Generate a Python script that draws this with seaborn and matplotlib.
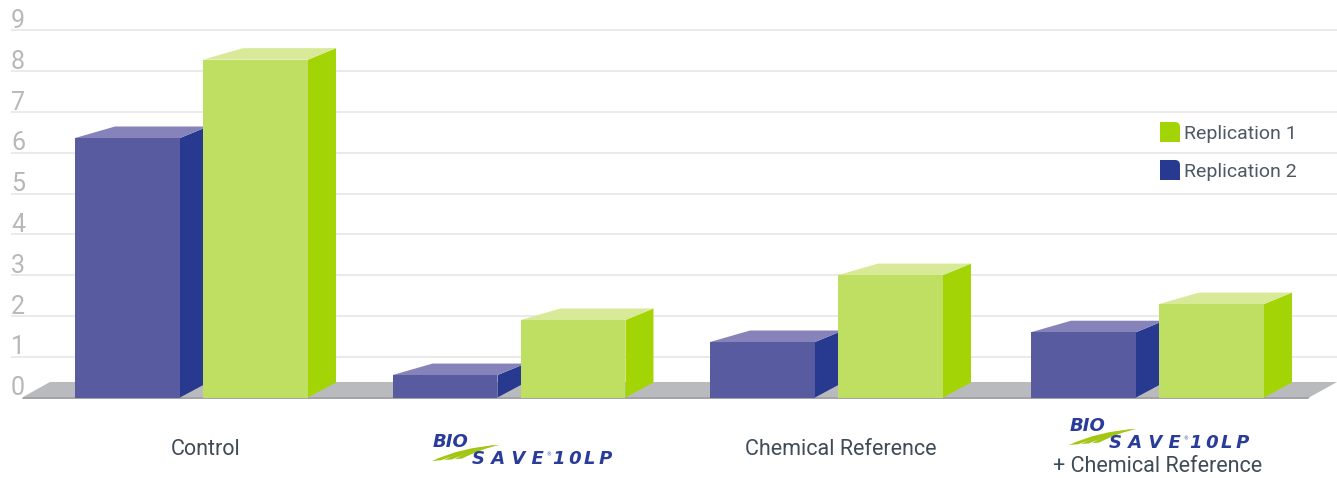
"""3D looking bar chart of the two replications, drawn on top of a seaborn barplot"""

import matplotlib
matplotlib.use("Agg")

import pandas as pd
import seaborn as sns

from matplotlib import pyplot as plt
from matplotlib.patches import PathPatch, Polygon
from matplotlib.path import Path
from matplotlib.transforms import Affine2D, ScaledTranslation


treatments = ["Control", "BioSave", "Chemical Reference", "BioSave + Chemical Reference"]
replication_1 = [8.28, 1.90, 3.00, 2.29]
replication_2 = [6.36, 0.55, 1.36, 1.60]
tick_values = [0, 1, 2, 3, 4, 5, 6, 7, 8, 9]
tick_labels = ["Control", "", "Chemical Reference", "+ Chemical Reference"]

W, H = 1337, 478
PX_PER_UNIT = 40.8
ZERO_Y = 397.5
SPACING = 317.5
FIRST_CENTER = 191.5

colors = {
    "Replication 1": {"front": "#bedf62", "side": "#a3d506", "top": "#d8e997"},
    "Replication 2": {"front": "#595ba1", "side": "#283a90", "top": "#8583b9"},
}
LABEL_COLOR = "#3f4b57"
LOGO_BLUE = "#2a3c9a"
LOGO_GREEN = "#a3c614"
THIN = "\u2009"

plt.rcParams["font.family"] = ["Roboto", "DejaVu Sans"]

df = pd.DataFrame({
    "treatment": treatments * 2,
    "replication": ["Replication 1"] * 4 + ["Replication 2"] * 4,
    "value": replication_1 + replication_2,
})

fig = plt.figure(figsize=(W / 100, H / 100), dpi=100, facecolor="white")
ax = fig.add_axes([11 / W, (H - ZERO_Y) / H, (W - 11) / W, ZERO_Y / H])
# image style pixel coordinates for the floor, the depth faces and the legend
px = Affine2D().scale(1, -1).translate(0, H)

sns.barplot(
    data=df, x="treatment", y="value", hue="replication", order=treatments,
    hue_order=["Replication 2", "Replication 1"],
    palette={k: v["front"] for k, v in colors.items()},
    saturation=1, width=256 / SPACING, gap=0.18, legend=False, ax=ax, zorder=3, linewidth=0,
)

ax.set_xlim((11 - FIRST_CENTER) / SPACING, (W - FIRST_CENTER) / SPACING)
ax.set_ylim(0, ZERO_Y / PX_PER_UNIT)
ax.set_xlabel("")
ax.set_ylabel("")
sns.despine(ax=ax, left=True, bottom=True, top=True, right=True)
ax.set_axisbelow(True)

ax.set_yticks(tick_values)
ax.set_yticklabels([str(v) for v in tick_values])
ax.grid(axis="y", color="#e4e4e4", linewidth=1.1)
ax.yaxis.get_gridlines()[0].set_visible(False)
ax.tick_params(axis="y", length=0, pad=0, labelsize=18, labelcolor="#b8b8b8")
for label in ax.get_yticklabels():
    label.set_horizontalalignment("left")
    label.set_verticalalignment("bottom")
    label.set_transform(label.get_transform() + ScaledTranslation(0, -2 / 72, fig.dpi_scale_trans))

ax.set_xticks(range(len(treatments)))
ax.set_xticklabels(tick_labels)
ax.tick_params(axis="x", length=0, pad=0, labelsize=15.5, labelcolor=LABEL_COLOR)
label_drop = [52, 52, 52, 69]
for label, drop in zip(ax.get_xticklabels(), label_drop):
    label.set_verticalalignment("center")
    label.set_transform(label.get_transform() + ScaledTranslation(14 / 100, -drop / 100, fig.dpi_scale_trans))

# the last group sits a little further right than the regular spacing
for container in ax.containers:
    container[3].set_x(container[3].get_x() + 3.5 / SPACING)

# floor
ax.add_patch(Polygon([(23, 397), (50, 382), (1337, 382), (1310, 397)], closed=True, transform=px,
                     facecolor="#b9babd", edgecolor="none", zorder=2, clip_on=False))
ax.add_patch(Polygon([(23, 397), (1310, 397), (1308, 399), (22, 399)], closed=True, transform=px,
                     facecolor="#a4a4a8", edgecolor="none", zorder=2, clip_on=False))

# depth faces, taken from the bars that seaborn placed
for container, name, z in zip(ax.containers, ["Replication 2", "Replication 1"], [3, 5]):
    for bar in container:
        bar.set_zorder(z + 1)
        x0, top = px.inverted().transform(ax.transData.transform((bar.get_x(), bar.get_height())))
        x1, bottom = px.inverted().transform(ax.transData.transform((bar.get_x() + bar.get_width(), 0)))
        ax.add_patch(Polygon([(x1, bottom), (x1 + 28, bottom - 15), (x1 + 28, top - 11.5), (x1, top)],
                             closed=True, transform=px, facecolor=colors[name]["side"],
                             edgecolor="none", zorder=z, clip_on=False))
        ax.add_patch(Polygon([(x0, top), (x0 + 40, top - 11.5), (x1 + 28, top - 11.5), (x1, top)],
                             closed=True, transform=px, facecolor=colors[name]["top"],
                             edgecolor="none", zorder=z, clip_on=False))


def draw_logo(x, y):
    """BioSave wordmark, (x, y) is the left tip of the green swoosh in pixels"""
    # three green strands running together at the upper right
    for b0, b1 in [(0, 9), (12, 20), (23, 30)]:
        verts = [(x + b0, y - b0 * 0.08), (x + b0 * 0.5 + 30, y - 14), (x + 67, y - 16),
                 (x + b1 * 0.5 + 34, y - 12), (x + b1, y - b1 * 0.08), (x + b0, y - b0 * 0.08)]
        codes = [Path.MOVETO, Path.CURVE3, Path.CURVE3, Path.CURVE3, Path.CURVE3, Path.CLOSEPOLY]
        fig.add_artist(PathPatch(Path(verts, codes), transform=px, facecolor=LOGO_GREEN,
                                 edgecolor="none", zorder=7))
    kw = dict(transform=None, color=LOGO_BLUE, family="DejaVu Sans", va="baseline", ha="left", zorder=8)
    word = dict(fontsize=13, style="oblique", weight="bold")
    fig.text(x + 1, H - y + 14, "BIO", **word, **kw)
    fig.text(x + 40, H - y - 3, " ".join("SAVE"), **word, **kw)
    fig.text(x + 114, H - y + 5, "\u00ae", fontsize=3.5, **kw)
    fig.text(x + 121, H - y - 3, THIN.join("10"), **word, **kw)
    fig.text(x + 152, H - y - 3, THIN.join("LP"), **word, **kw)


draw_logo(432, 461)
draw_logo(1069, 445)

# legend swatches have one rounded corner
for name, y in zip(["Replication 1", "Replication 2"], [122, 160]):
    x = 1160
    verts = [(x, y), (x + 15, y), (x + 20, y), (x + 20, y + 5), (x + 20, y + 20), (x, y + 20), (x, y)]
    codes = [Path.MOVETO, Path.LINETO, Path.CURVE3, Path.CURVE3, Path.LINETO, Path.LINETO, Path.CLOSEPOLY]
    ax.add_patch(PathPatch(Path(verts, codes), transform=px, facecolor=colors[name]["side"],
                           edgecolor="none", zorder=8, clip_on=False))
    fig.text(1184, H - y - 12, name, transform=None, color="#4d5965", fontsize=14, va="center", ha="left")

fig.savefig("out.png", dpi=100)
